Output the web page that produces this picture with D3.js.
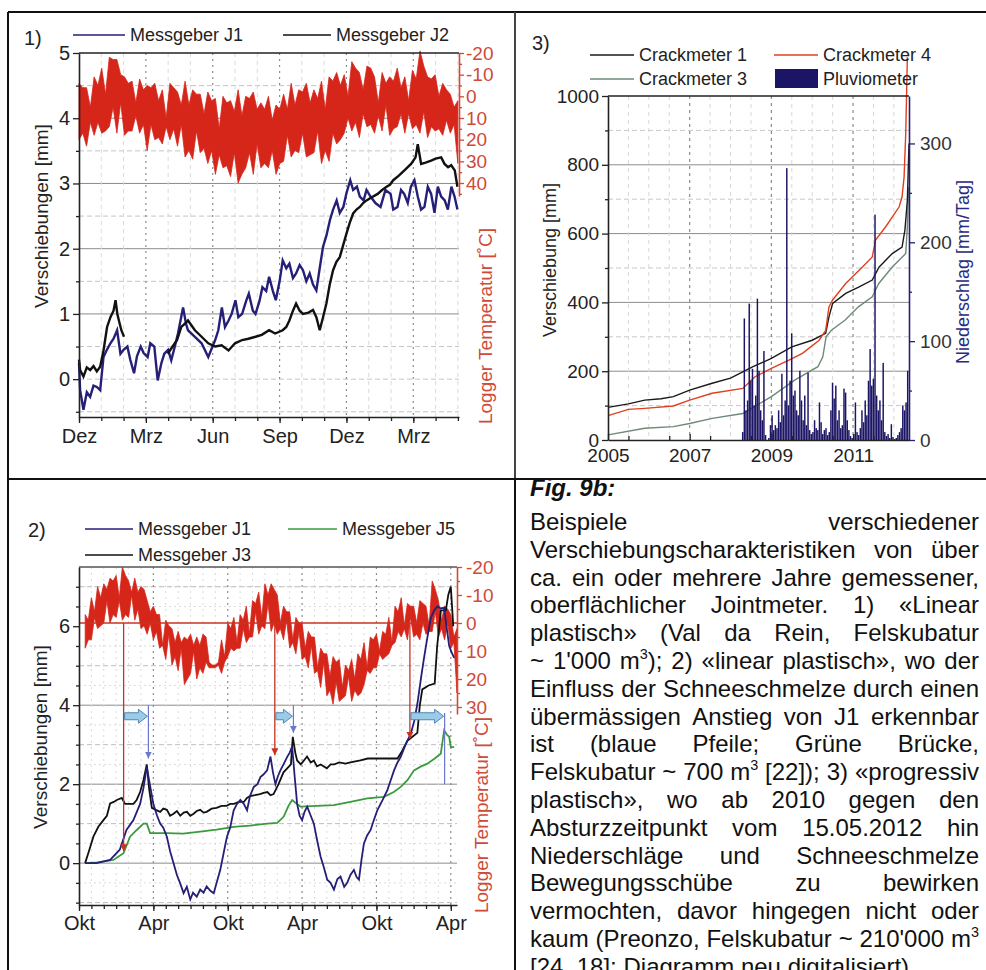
<!DOCTYPE html>
<html>
<head>
<meta charset="utf-8">
<script src="https://cdn.jsdelivr.net/npm/d3@7"></script>
<style>
  body { margin: 0; background: #fff; }
  svg { display: block; }
</style>
</head>
<body>
<svg id="fig" width="986" height="970"></svg>
<script>
// ---------- data ----------

// panel 1 (months since Dez)
const p1TickMonths = [0, 3, 6, 9, 12, 15];
const p1TickLabels = ["Dez", "Mrz", "Jun", "Sep", "Dez", "Mrz"];
const p1MmTicks = [0, 1, 2, 3, 4, 5];
const p1TempTicks = [-20, -10, 0, 10, 20, 30, 40];
const p1TempStart = 0, p1TempStep = 0.17;
// upper (cold) and lower (warm) edge of the noisy logger trace, °C
const p1TempCold = [
  -6, -4, -4, 5, -9, -5, -13, -1, -18, -17, -17, -10, -9, -6, -7, 3, -8, -3, -5, -4,
  -6, 2, -3, 10, -6, -4, -2, 4, -7, 4, -3, -1, -1, 8, -2, 2, 1, 15, 0, 3,
  2, 7, -3, 9, 0, 1, -2, 6, 3, 6, 0, 11, 4, 6, -1, 6, -6, 4, -3, -2,
  -6, 3, -3, 1, -7, 6, -9, -7, -11, -5, -10, 0, -16, -13, -11, -3, -14, -13, -9, 3,
  -11, -6, -9, -7, -13, -4, -9, 2, -12, -8, -21, -14, -9, -8, -10, 0, -6, -3, -1, 5,
  2];
const p1TempWarm = [
  20, 17, 23, 12, 18, 12, 17, 16, 14, 5, 17, 3, 18, 16, 16, 9, 17, 13, 25, 13,
  20, 19, 22, 14, 20, 15, 23, 13, 28, 25, 29, 16, 26, 24, 31, 25, 36, 27, 33, 32,
  37, 26, 40, 36, 33, 26, 36, 22, 33, 31, 33, 25, 36, 31, 30, 18, 28, 25, 26, 17,
  28, 27, 26, 16, 31, 25, 30, 17, 22, 20, 17, 10, 16, 12, 19, 8, 14, 13, 17, 9,
  16, 4, 18, 15, 14, 8, 17, 8, 15, 13, 17, 7, 19, 14, 16, 15, 18, 11, 17, 13,
  31];
const p1J1 = [[0, 0.25], [0.05, -0.17], [0.2, -0.47], [0.35, -0.2], [0.5, -0.27], [0.65, -0.1], [0.8, -0.12], [0.95, -0.17],
  [1.1, 0.34], [1.25, 0.45], [1.41, 0.55], [1.55, 0.62], [1.71, 0.75], [1.86, 0.39], [2.0, 0.45], [2.17, 0.5], [2.3, 0.3],
  [2.47, 0.09], [2.6, 0.35], [2.77, 0.5], [2.9, 0.4], [3.08, 0.34], [3.2, 0.55], [3.38, 0.5], [3.53, -0.02], [3.7, 0.25],
  [3.83, 0.39], [4.0, 0.45], [4.14, 0.29], [4.3, 0.5], [4.44, 0.7], [4.67, 1.1], [4.8, 0.85], [4.89, 0.75], [5.2, 0.65],
  [5.5, 0.55], [5.8, 0.34], [6.11, 0.6], [6.25, 0.75], [6.41, 1.1], [6.55, 0.8], [6.71, 0.9], [6.85, 1.0], [7.02, 1.21],
  [7.15, 0.95], [7.32, 1.0], [7.5, 1.2], [7.62, 1.31], [7.8, 1.05], [7.92, 1.0], [8.1, 1.2], [8.23, 1.41], [8.4, 1.35],
  [8.53, 1.57], [8.7, 1.35], [8.83, 1.21], [9.0, 1.5], [9.14, 1.82], [9.3, 1.7], [9.44, 1.77], [9.6, 1.55], [9.74, 1.62],
  [9.9, 1.75], [10.05, 1.67], [10.2, 1.5], [10.35, 1.62], [10.5, 1.45], [10.65, 1.36], [10.8, 1.7], [10.95, 2.03],
  [11.1, 2.2], [11.26, 2.44], [11.4, 2.6], [11.56, 2.74], [11.7, 2.55], [11.86, 2.64], [12.0, 2.85], [12.17, 3.05],
  [12.3, 2.9], [12.47, 2.95], [12.6, 2.8], [12.77, 2.74], [12.9, 2.9], [13.08, 2.8], [13.3, 2.7], [13.53, 2.64],
  [13.75, 2.9], [13.98, 2.84], [14.1, 2.6], [14.29, 2.64], [14.45, 2.9], [14.59, 2.84], [14.75, 2.7], [14.89, 2.95],
  [15.05, 3.05], [15.2, 2.8], [15.35, 2.6], [15.5, 2.64], [15.65, 2.95], [15.8, 2.84], [15.95, 2.55], [16.1, 2.95],
  [16.25, 2.8], [16.41, 2.74], [16.55, 2.6], [16.71, 2.95], [16.85, 2.8], [16.98, 2.6]];
const p1J2 = [[0, 0.3], [0.05, 0.14], [0.2, 0.04], [0.35, 0.18], [0.5, 0.14], [0.65, 0.2], [0.8, 0.12], [0.95, 0.19],
  [1.1, 0.44], [1.26, 0.8], [1.41, 0.95], [1.55, 1.05], [1.64, 1.21], [1.72, 1.0], [1.79, 0.9], [1.9, 0.75], [2.02, 0.65],
  [2.05, null], [3.9, null], [3.98, 0.39], [4.2, 0.5], [4.4, 0.6], [4.59, 0.8], [4.75, 0.85], [4.89, 0.9], [5.2, 0.75],
  [5.5, 0.65], [5.8, 0.55], [6.11, 0.5], [6.4, 0.52], [6.71, 0.44], [7.0, 0.55], [7.32, 0.6], [7.6, 0.62], [7.92, 0.65],
  [8.2, 0.68], [8.53, 0.75], [8.8, 0.7], [9.14, 0.75], [9.3, 0.8], [9.44, 0.9], [9.6, 1.05], [9.74, 1.16], [9.9, 1.05],
  [10.05, 1.0], [10.3, 1.02], [10.5, 1.06], [10.65, 0.95], [10.8, 0.75], [10.95, 0.95], [11.1, 1.16], [11.25, 1.45],
  [11.4, 1.67], [11.55, 1.8], [11.7, 1.87], [11.85, 2.05], [12.0, 2.23], [12.15, 2.4], [12.3, 2.54], [12.45, 2.6],
  [12.6, 2.64], [12.75, 2.7], [12.9, 2.74], [13.1, 2.78], [13.4, 2.84], [13.6, 2.9], [13.8, 2.95], [13.95, 2.98],
  [14.1, 3.05], [14.35, 3.12], [14.6, 3.2], [14.75, 3.25], [14.9, 3.3], [15.1, 3.4], [15.2, 3.6], [15.35, 3.3],
  [15.55, 3.32], [15.8, 3.35], [16.0, 3.38], [16.25, 3.4], [16.4, 3.3], [16.56, 3.25], [16.7, 3.28], [16.86, 3.2], [16.98, 2.95]];

// panel 3 (years)
const p3YearTicks = [2005, 2007, 2009, 2011];
const p3MmTicks = [0, 200, 400, 600, 800, 1000];
const p3RainTicks = [0, 100, 200, 300];
const crack1 = [[2005, 95], [2005.5, 105], [2005.9, 116], [2006.3, 120], [2006.6, 126], [2007.0, 145], [2007.55, 165],
  [2008.0, 180], [2008.3, 198], [2008.55, 213], [2009.0, 237], [2009.5, 271], [2010.0, 290], [2010.33, 310],
  [2010.41, 358], [2010.5, 397], [2010.82, 426], [2011.15, 445], [2011.47, 465], [2011.64, 503], [2011.96, 542],
  [2012.2, 561], [2012.27, 610], [2012.33, 697], [2012.37, 862]];
const crack4 = [[2005, 71], [2005.5, 89], [2005.9, 92], [2006.6, 99], [2007.0, 116], [2007.55, 136], [2008.3, 150],
  [2008.6, 184], [2009.0, 208], [2009.43, 232], [2009.76, 252], [2010.17, 290], [2010.33, 319], [2010.41, 387],
  [2010.5, 407], [2010.82, 455], [2011.23, 503], [2011.47, 532], [2011.55, 581], [2011.8, 620], [2012.13, 678],
  [2012.2, 707], [2012.25, 765], [2012.29, 890], [2012.33, 1113]];
const crack3 = [[2005, 15], [2005.9, 34], [2006.6, 39], [2007.0, 48], [2007.55, 63], [2008.3, 77], [2009.0, 126],
  [2009.57, 174], [2010.14, 213], [2010.26, 242], [2010.34, 300], [2010.47, 319], [2010.8, 348], [2011.13, 387],
  [2011.47, 416], [2011.63, 455], [2011.96, 503], [2012.29, 542], [2012.33, 620], [2012.36, 735]];
const rainStart = 2008.30, rainStep = 0.04;
const rainValues = [8, 123, 30, 40, 138, 60, 72, 35, 45, 143, 70, 30, 20, 90, 5, 0, 2, 15, 25, 10,
  15, 12, 30, 18, 67, 25, 40, 275, 35, 60, 108, 45, 50, 30, 25, 70, 40, 20, 45, 15,
  68, 10, 6, 8, 20, 12, 10, 38, 18, 6, 10, 12, 5, 8, 30, 58, 42, 55, 20, 30,
  12, 15, 52, 48, 20, 10, 4, 2, 6, 38, 8, 5, 12, 30, 18, 40, 25, 60, 92, 55,
  62, 228, 45, 30, 40, 20, 78, 8, 4, 6, 2, 16, 3, 1, 2, 5, 8, 12, 35, 30, 38, 70];

// panel 2 (months since Okt)
const p2TickMonths = [0, 6, 12, 18, 24, 30];
const p2TickLabels = ["Okt", "Apr", "Okt", "Apr", "Okt", "Apr"];
const p2MmTicks = [0, 2, 4, 6];
const p2TempTicks = [-20, -10, 0, 10, 20, 30];
const p2TempStart = 0.5, p2TempStep = 0.25;
const p2TempCold = [
  -3, -1, -9, -4, -13, -9, -14, -12, -16, -15, -17, -9, -20, -17, -15, -11, -16, -11, -13, -12,
  -8, -4, -6, -3, -3, 8, -1, 1, 2, 7, 3, 7, 5, 6, 4, 8, 5, 8, 4, 5,
  14, 15, 15, 14, 6, 12, 0, 2, -2, 7, -3, -1, -6, 4, -8, -7, -11, -2, -14, -10,
  -14, -12, -10, 0, -6, -4, -4, 6, -2, 0, 0, 9, 3, 5, 5, 16, 9, 11, 11, 19,
  12, 14, 13, 23, 15, 17, 13, 20, 11, 13, 7, 16, 5, 6, 4, 10, 3, 4, -2, 7,
  -6, -4, -9, 1, -7, -6, -6, 0, -8, -7, -6, 1, -15, -12, -8, -1, -6, -5, -3, 5,
  2];
const p2TempWarm = [
  9, 6, 6, -2, 2, 1, 0, -8, 0, -3, -2, -8, -1, -3, -2, -10, -1, -5, 2, 1,
  4, 0, 6, 3, 9, 8, 13, 4, 15, 12, 17, 9, 22, 20, 18, 10, 20, 16, 18, 14,
  16, 16, 16, 15, 18, 14, 12, 9, 10, 9, 9, 2, 7, 5, 5, -4, 4, 1, 2, -7,
  3, 0, 4, 2, 6, -1, 9, 7, 11, 3, 13, 12, 16, 8, 18, 17, 23, 14, 26, 24,
  29, 21, 28, 27, 26, 19, 28, 24, 26, 25, 22, 17, 18, 16, 16, 11, 13, 12, 11, 8,
  7, 3, 5, 2, 6, -2, 5, 4, 6, 0, 4, 3, 3, -4, 5, 2, 6, 0, 9, 7,
  25];
const p2J1 = [[0.49, 0], [1.4, 0], [2.51, 0.08], [3.29, 0.34], [3.83, 0.84], [4.39, 1.09], [4.93, 1.5], [5.2, 1.9],
  [5.47, 2.44], [5.6, 2.2], [6.0, 1.5], [6.3, 1.2], [6.55, 1.0], [6.8, 0.9], [7.09, 0.67], [7.35, 0.3], [7.63, 0],
  [7.9, -0.3], [8.15, -0.5], [8.44, -0.76], [8.7, -0.6], [8.98, -0.92], [9.2, -0.75], [9.5, -0.85], [9.78, -0.67],
  [10.05, -0.75], [10.3, -0.59], [10.6, -0.7], [10.87, -0.76], [11.1, -0.5], [11.4, -0.17], [11.7, 0.3], [11.94, 0.67],
  [12.2, 0.9], [12.48, 1.34], [12.75, 1.5], [13.02, 1.6], [13.3, 1.5], [13.56, 1.34], [13.8, 1.7], [14.1, 1.93],
  [14.4, 2.0], [14.64, 2.18], [14.9, 2.25], [15.18, 2.35], [15.45, 2.7], [15.65, 2.3], [15.85, 2.0], [16.05, 2.2],
  [16.25, 2.35], [16.5, 2.5], [16.8, 2.69], [17.0, 2.8], [17.2, 2.95], [17.4, 2.2], [17.6, 1.5], [17.8, 1.2],
  [18.0, 1.09], [18.2, 1.3], [18.41, 1.43], [18.7, 1.2], [18.95, 1.0], [19.2, 0.6], [19.49, 0.17], [19.75, -0.1],
  [20.03, -0.42], [20.3, -0.5], [20.57, -0.67], [20.85, -0.4], [21.1, -0.34], [21.4, -0.6], [21.64, -0.5],
  [21.9, -0.3], [22.18, -0.17], [22.4, -0.35], [22.59, -0.42], [22.8, 0.1], [22.99, 0.5], [23.25, 0.7], [23.53, 0.84],
  [23.8, 1.1], [24.07, 1.34], [24.5, 1.6], [24.88, 1.85], [25.15, 2.1], [25.42, 2.35], [25.7, 2.55], [25.96, 2.69],
  [26.35, 3.0], [26.77, 3.28], [27.05, 3.6], [27.3, 4.03], [27.6, 4.7], [27.84, 5.2], [28.1, 5.7], [28.38, 6.2],
  [28.65, 6.4], [28.92, 6.5], [29.2, 6.45], [29.46, 6.47], [29.65, 6.0], [29.87, 5.5], [30.05, 5.35], [30.27, 5.2]];
const p2J3 = [[0.49, 0], [0.8, 0.3], [1.16, 0.67], [1.56, 0.92], [1.97, 1.09], [2.25, 1.2], [2.51, 1.51], [2.8, 1.55],
  [3.05, 1.6], [3.45, 1.65], [3.72, 1.5], [4.1, 1.5], [4.39, 1.5], [4.65, 1.6], [4.93, 1.8], [5.2, 2.1], [5.47, 2.5],
  [5.65, 1.9], [5.88, 1.4], [6.2, 1.35], [6.55, 1.3], [6.8, 1.38], [7.09, 1.35], [7.35, 1.2], [7.63, 1.25],
  [7.9, 1.32], [8.17, 1.2], [8.45, 1.28], [8.71, 1.3], [8.98, 1.2], [9.25, 1.25], [9.5, 1.32], [9.78, 1.35],
  [10.05, 1.28], [10.3, 1.3], [10.7, 1.38], [11.1, 1.4], [11.5, 1.45], [11.9, 1.45], [12.2, 1.5], [12.5, 1.5],
  [12.9, 1.55], [13.3, 1.55], [13.55, 1.65], [13.8, 1.7], [14.2, 1.72], [14.6, 1.75], [14.9, 1.78], [15.2, 1.8],
  [15.45, 1.72], [15.7, 1.75], [16.1, 2.0], [16.5, 2.3], [16.8, 2.4], [17.1, 2.5], [17.25, 3.2], [17.45, 2.8],
  [17.6, 2.6], [17.9, 2.5], [18.15, 2.6], [18.4, 2.7], [18.7, 2.55], [18.95, 2.6], [19.2, 2.45], [19.5, 2.5],
  [20.0, 2.4], [20.3, 2.5], [20.6, 2.5], [21.0, 2.55], [21.5, 2.52], [21.9, 2.55], [22.3, 2.58], [22.7, 2.6],
  [23.3, 2.65], [24.5, 2.65], [25.7, 2.65], [26.0, 2.8], [26.5, 3.1], [26.9, 3.2], [27.3, 3.3], [27.5, 4.0],
  [27.7, 4.4], [28.2, 4.5], [28.7, 4.55], [28.9, 5.5], [29.2, 6.4], [29.6, 6.4], [29.8, 6.8], [30.0, 7.0], [30.2, 6.0]];
const p2J5 = [[0.49, 0], [1.5, 0.02], [2.78, 0.08], [3.59, 0.25], [4.12, 0.67], [4.66, 0.84], [5.2, 1.0], [5.47, 1.0],
  [5.74, 0.76], [7.09, 0.76], [8.4, 0.75], [9.78, 0.8], [11.1, 0.85], [12.48, 0.92], [13.8, 0.95], [15.18, 1.0],
  [16.0, 1.02], [16.52, 1.18], [16.9, 1.45], [17.2, 1.6], [17.87, 1.43], [19.2, 1.45], [20.57, 1.47], [21.9, 1.55],
  [23.26, 1.64], [24.61, 1.68], [25.4, 1.8], [25.96, 1.93], [26.5, 2.1], [27.03, 2.35], [27.6, 2.45], [28.11, 2.52],
  [28.7, 2.65], [29.19, 2.77], [29.46, 3.36], [29.7, 3.25], [29.87, 3.2], [30.0, 2.94], [30.27, 2.94]];
// annotations: red = frost onset, blue = delayed reaction
const p2RedArrowMonths = [3.6, 15.8, 26.7];
const p2RedArrowMm = [0.3, 2.73, 3.15];
const p2BlueArrowFrom = [3.6, 15.8, 26.7];
const p2BlueArrowTo = [5.6, 17.3, 29.5];
const p2BlueDropMonths = [5.6, 17.3, 29.5];
const p2BlueDropTop = [4, 4, 3.8];
const p2BlueDropBottom = [2.65, 3.3, 2.0];

// caption
const captionTitle = "Fig. 9b:";
const captionLines = [
  "Beispiele verschiedener",
  "Verschiebungscharakteristiken von über",
  "ca. ein oder mehrere Jahre gemessener,",
  "oberflächlicher Jointmeter. 1) «Linear",
  "plastisch» (Val da Rein, Felskubatur",
  "~ 1'000 m^3); 2) «linear plastisch», wo der",
  "Einfluss der Schneeschmelze durch einen",
  "übermässigen Anstieg von J1 erkennbar",
  "ist (blaue Pfeile; Grüne Brücke,",
  "Felskubatur ~ 700 m^3 [22]); 3) «progressiv",
  "plastisch», wo ab 2010 gegen den",
  "Absturzzeitpunkt vom 15.05.2012 hin",
  "Niederschläge und Schneeschmelze",
  "Bewegungsschübe zu bewirken",
  "vermochten, davor hingegen nicht oder",
  "kaum (Preonzo, Felskubatur ~ 210'000 m^3",
  "[24, 18]; Diagramm neu digitalisiert)."
];

// ---------- drawing ----------
const FONT = "'Liberation Sans', Arial, Helvetica, sans-serif";
const TEMP_RED = "#d6261a";
const AXIS_RED = "#cf4a38";
const NAVY = "#251f78";
const GREEN = "#3a9a3e";
const fmt = d3.format("d");

const svg = d3.select("#fig").style("font-family", FONT);

const defs = svg.append("defs");
function marker(id, color) {
  defs.append("marker").attr("id", id)
    .attr("viewBox", "0 0 8 8").attr("refX", 8).attr("refY", 4)
    .attr("markerWidth", 7).attr("markerHeight", 7)
    .attr("markerUnits", "userSpaceOnUse").attr("orient", "auto")
    .append("path").attr("d", "M0,0 L8,4 L0,8 z").attr("fill", color);
}
marker("arrRed", "#c8331f");
marker("arrBlue", "#6a78d0");

function hLines(vals, y, xr, stroke, dash, w) {
  svg.append("g").selectAll("line").data(vals).join("line")
    .attr("x1", xr[0]).attr("x2", xr[1])
    .attr("y1", d => y(d)).attr("y2", d => y(d))
    .attr("stroke", stroke).attr("stroke-width", w || 1)
    .attr("stroke-dasharray", dash || null);
}
function vLines(vals, x, yr, stroke, dash, w) {
  svg.append("g").selectAll("line").data(vals).join("line")
    .attr("y1", yr[0]).attr("y2", yr[1])
    .attr("x1", d => x(d)).attr("x2", d => x(d))
    .attr("stroke", stroke).attr("stroke-width", w || 1)
    .attr("stroke-dasharray", dash || null);
}
function axis(gen, transform, color, fs, minor) {
  const g = svg.append("g").attr("transform", transform).call(gen);
  g.attr("font-family", null).attr("font-size", null);
  if (minor) g.select(".domain").remove();
  else g.select(".domain").attr("stroke", color).attr("stroke-width", 1.6);
  g.selectAll(".tick line").attr("stroke", color).attr("stroke-width", 1.3);
  g.selectAll(".tick text").attr("fill", color).attr("font-size", fs);
  return g;
}
function label(x, y, txt, fs, color, rotate, anchor) {
  const t = svg.append("text").attr("font-size", fs).attr("fill", color || "#222")
    .attr("text-anchor", anchor || "start").text(txt);
  if (rotate) t.attr("transform", `translate(${x},${y}) rotate(-90)`);
  else t.attr("x", x).attr("y", y);
  return t;
}
function legendLine(x0, x1, y, color, txt) {
  svg.append("line").attr("x1", x0).attr("x2", x1).attr("y1", y).attr("y2", y)
    .attr("stroke", color).attr("stroke-width", 1.5);
  label(x1 + 5, y + 6, txt, 18, "#222");
}
// noisy logger band: area between the cold and warm edge samples
function tempBand(x, t, start, step, cold, warm) {
  const area = d3.area()
    .x((d, i) => x(start + i * step))
    .y0((d, i) => t(warm[i]))
    .y1(d => t(d));
  svg.append("path").datum(cold).attr("d", area).attr("fill", TEMP_RED)
    .attr("stroke", TEMP_RED).attr("stroke-width", 0.8);
}

// frame of the figure
svg.append("line").attr("x1", 8).attr("x2", 986).attr("y1", 12).attr("y2", 12).attr("stroke", "#111").attr("stroke-width", 2);
svg.append("line").attr("x1", 8).attr("x2", 8).attr("y1", 12).attr("y2", 970).attr("stroke", "#111").attr("stroke-width", 2);
svg.append("line").attr("x1", 515).attr("x2", 515).attr("y1", 12).attr("y2", 479).attr("stroke", "#444").attr("stroke-width", 2);
svg.append("line").attr("x1", 515).attr("x2", 515).attr("y1", 479).attr("y2", 970).attr("stroke", "#111").attr("stroke-width", 2);
svg.append("line").attr("x1", 8).attr("x2", 986).attr("y1", 479).attr("y2", 479).attr("stroke", "#111").attr("stroke-width", 2);

// ===== panel 1 =====
{
  const x = d3.scaleLinear().domain([0, 17.05]).range([79, 459]);
  const y = d3.scaleLinear().domain([-0.58, 5]).range([417, 53]);
  const t = d3.scaleLinear().domain([-20, 46]).range([53, 196]);

  hLines([-0.5, 0, 0.5, 1.5, 2.5, 3.5, 4.5], y, [79, 459], "#c4c4c4", "5,3");
  hLines([1, 2, 3, 4], y, [79, 459], "#8c8c8c");
  vLines(d3.range(1, 18).filter(m => m % 3), x, [53, 417], "#dadada", "4,4");
  vLines(p1TickMonths.slice(1), x, [53, 417], "#8c8c8c", "2,4", 1.2);

  tempBand(x, t, p1TempStart, p1TempStep, p1TempCold, p1TempWarm);

  const line = d3.line().defined(d => d[1] != null).x(d => x(d[0])).y(d => y(d[1]));
  svg.append("path").datum(p1J1).attr("d", line).attr("fill", "none").attr("stroke", NAVY).attr("stroke-width", 2.4);
  svg.append("path").datum(p1J2).attr("d", line).attr("fill", "none").attr("stroke", "#111").attr("stroke-width", 2.4);

  svg.append("line").attr("x1", 79).attr("x2", 459).attr("y1", 53).attr("y2", 53).attr("stroke", "#222").attr("stroke-width", 1.6);

  axis(d3.axisLeft(y).tickValues(p1MmTicks).tickFormat(fmt).tickSize(6).tickPadding(3).tickSizeOuter(0), "translate(79,0)", "#222", 20);
  axis(d3.axisLeft(y).tickValues([-0.5, 0.5, 1.5, 2.5, 3.5, 4.5]).tickSize(3).tickFormat(""), "translate(79,0)", "#222", 20, true);
  axis(d3.axisBottom(x).tickValues(p1TickMonths).tickFormat((d, i) => p1TickLabels[i]).tickSize(6).tickPadding(6).tickSizeOuter(0),
    "translate(0,417)", "#222", 20);
  axis(d3.axisBottom(x).tickValues(d3.range(0, 18)).tickSize(4).tickFormat(""), "translate(0,417)", "#222", 20, true);
  axis(d3.axisRight(t).tickValues(p1TempTicks).tickFormat(d => String(d)).tickSize(5).tickPadding(2).tickSizeOuter(0),
    "translate(459,0)", AXIS_RED, 19);
  axis(d3.axisRight(t).tickValues([-15, -5, 5, 15, 25, 35, 45]).tickSize(3).tickFormat(""), "translate(459,0)", AXIS_RED, 19, true);

  label(48, 216, "Verschiebungen [mm]", 19, "#222", true, "middle");
  label(492, 326, "Logger Temperatur [˚C]", 19, AXIS_RED, true, "middle");

  label(24, 45, "1)", 20, "#222");
  legendLine(73, 125, 35, NAVY, "Messgeber J1");
  legendLine(283, 331, 35, "#111", "Messgeber J2");
}

// ===== panel 3 =====
{
  const x = d3.scaleLinear().domain([2005, 2012.37]).range([608, 909]);
  const y = d3.scaleLinear().domain([0, 1000]).range([440, 96]);
  const r = d3.scaleLinear().domain([0, 348]).range([440, 96]);

  hLines([100, 300, 500, 700, 900], y, [608, 909], "#c8c8c8", "5,3");
  hLines([200, 400, 600, 800], y, [608, 909], "#8c8c8c");
  vLines(d3.range(2005.5, 2012.3, 0.5).filter(v => !p3YearTicks.includes(v)), x, [96, 440], "#d8d8d8", "4,4");
  vLines(p3YearTicks.slice(1), x, [96, 440], "#8c8c8c", "3,4", 1.2);

  const line = d3.line().x(d => x(d[0])).y(d => y(d[1]));
  svg.append("path").datum(crack3).attr("d", line).attr("fill", "none").attr("stroke", "#6e8a76").attr("stroke-width", 1.4);
  svg.append("path").datum(crack1).attr("d", line).attr("fill", "none").attr("stroke", "#1a1a1a").attr("stroke-width", 1.4);
  svg.append("path").datum(crack4).attr("d", line).attr("fill", "none").attr("stroke", "#e0401f").attr("stroke-width", 1.4);

  const bw = x(rainStart + rainStep) - x(rainStart);
  svg.append("g").selectAll("rect").data(rainValues).join("rect")
    .attr("x", (d, i) => x(rainStart + i * rainStep) - bw / 2)
    .attr("width", bw * 0.9)
    .attr("y", d => r(d))
    .attr("height", d => r(0) - r(d))
    .attr("fill", "#1c1565");

  svg.append("line").attr("x1", 608).attr("x2", 909).attr("y1", 96).attr("y2", 96).attr("stroke", "#222").attr("stroke-width", 1.6);

  axis(d3.axisLeft(y).tickValues(p3MmTicks).tickFormat(fmt).tickSize(6).tickPadding(3).tickSizeOuter(0), "translate(608,0)", "#222", 19);
  axis(d3.axisLeft(y).tickValues([100, 300, 500, 700, 900]).tickSize(3).tickFormat(""), "translate(608,0)", "#222", 19, true);
  axis(d3.axisBottom(x).tickValues(p3YearTicks).tickFormat(fmt).tickSize(-6).tickPadding(9).tickSizeOuter(0),
    "translate(0,440)", "#222", 19);
  axis(d3.axisBottom(x).tickValues(d3.range(2005.5, 2012.3, 1)).tickSize(-4).tickFormat(""), "translate(0,440)", "#222", 19, true);
  const ra = axis(d3.axisRight(r).tickValues(p3RainTicks).tickFormat(fmt).tickSize(6).tickPadding(5).tickSizeOuter(0), "translate(909,0)", NAVY, 19);
  ra.selectAll(".tick text").attr("fill", "#333");
  axis(d3.axisRight(r).tickValues([50, 150, 250]).tickSize(3).tickFormat(""), "translate(909,0)", NAVY, 19, true);

  label(556, 260, "Verschiebung [mm]", 18, "#222", true, "middle");
  label(969, 272, "Niederschlag [mm/Tag]", 18, "#2a2a80", true, "middle");

  label(532, 50, "3)", 20, "#222");
  legendLine(590, 634, 55, "#1a1a1a", "Crackmeter 1");
  legendLine(774, 818, 55, "#e0401f", "Crackmeter 4");
  legendLine(590, 634, 79, "#6e8a76", "Crackmeter 3");
  svg.append("rect").attr("x", 775).attr("y", 69).attr("width", 43).attr("height", 19).attr("fill", "#1c1565");
  label(823, 85, "Pluviometer", 18, "#222");
}

// ===== panel 2 =====
{
  const x = d3.scaleLinear().domain([0, 30.5]).range([79, 457]);
  const y = d3.scaleLinear().domain([-1.06, 7.5]).range([905, 567]);
  const t = d3.scaleLinear().domain([-20, 32.5]).range([567, 714]);

  hLines([-0.5, 0.5, 1.5, 2.5, 3.5, 4.5, 5.5, 6.5, 7], y, [79, 457], "#dcdcdc", "2,3");
  hLines([-1, 1, 3, 5, 7], y, [79, 457], "#bdbdbd", "5,3");
  hLines([0, 2, 4], y, [79, 457], "#8c8c8c");
  vLines(d3.range(1, 31).filter(m => m % 6), x, [567, 905], "#dadada", "2,4");
  vLines(p2TickMonths.slice(1), x, [567, 905], "#8c8c8c", "2,4", 1.2);

  tempBand(x, t, p2TempStart, p2TempStep, p2TempCold, p2TempWarm);
  // 0 °C line coincides with 6 mm
  svg.append("line").attr("x1", 79).attr("x2", 457).attr("y1", t(0)).attr("y2", t(0))
    .attr("stroke", "#c8331f").attr("stroke-width", 1.3);

  const line = d3.line().x(d => x(d[0])).y(d => y(d[1]));
  svg.append("path").datum(p2J5).attr("d", line).attr("fill", "none").attr("stroke", GREEN).attr("stroke-width", 1.8);
  svg.append("path").datum(p2J3).attr("d", line).attr("fill", "none").attr("stroke", "#111").attr("stroke-width", 1.8);
  svg.append("path").datum(p2J1).attr("d", line).attr("fill", "none").attr("stroke", NAVY).attr("stroke-width", 1.8);

  // red arrows from the 0 °C line down to the curves
  p2RedArrowMonths.forEach((m, i) => {
    svg.append("line").attr("x1", x(m)).attr("x2", x(m))
      .attr("y1", t(0)).attr("y2", y(p2RedArrowMm[i]))
      .attr("stroke", "#c8331f").attr("stroke-width", 1.3).attr("marker-end", "url(#arrRed)");
  });
  // blue thin drops
  p2BlueDropMonths.forEach((m, i) => {
    svg.append("line").attr("x1", x(m)).attr("x2", x(m))
      .attr("y1", y(p2BlueDropTop[i])).attr("y2", y(p2BlueDropBottom[i]))
      .attr("stroke", "#6a78d0").attr("stroke-width", 1.2)
      .attr("marker-end", i < 2 ? "url(#arrBlue)" : null);
  });
  // blue block arrows
  const ay = y(3.72);
  p2BlueArrowFrom.forEach((m, i) => {
    const a = x(m) + 1, b = x(p2BlueArrowTo[i]) - 1;
    const pts = [[a, ay - 3.5], [b - 9, ay - 3.5], [b - 9, ay - 7], [b, ay], [b - 9, ay + 7], [b - 9, ay + 3.5], [a, ay + 3.5]];
    svg.append("polygon").attr("points", pts.map(p => p.join(",")).join(" "))
      .attr("fill", "#9ccbe8").attr("stroke", "#4f86b8").attr("stroke-width", 1);
  });

  svg.append("line").attr("x1", 79).attr("x2", 457).attr("y1", 567).attr("y2", 567).attr("stroke", "#555").attr("stroke-width", 1.6);

  axis(d3.axisLeft(y).tickValues(p2MmTicks).tickFormat(fmt).tickSize(6).tickPadding(3).tickSizeOuter(0), "translate(79,0)", "#222", 20);
  axis(d3.axisLeft(y).tickValues([-1, -0.5, 0.5, 1, 1.5, 2.5, 3, 3.5, 4.5, 5, 5.5, 6.5, 7]).tickSize(3).tickFormat(""),
    "translate(79,0)", "#222", 20, true);
  axis(d3.axisBottom(x).tickValues(p2TickMonths).tickFormat((d, i) => p2TickLabels[i]).tickSize(6).tickPadding(5).tickSizeOuter(0),
    "translate(0,905)", "#222", 20);
  axis(d3.axisBottom(x).tickValues(d3.range(0, 31)).tickSize(4).tickFormat(""), "translate(0,905)", "#222", 20, true);
  axis(d3.axisRight(t).tickValues(p2TempTicks).tickFormat(d => String(d)).tickSize(5).tickPadding(4).tickSizeOuter(0),
    "translate(457,0)", AXIS_RED, 19);
  axis(d3.axisRight(t).tickValues([-15, -5, 5, 15, 25]).tickSize(3).tickFormat(""), "translate(457,0)", AXIS_RED, 19, true);

  label(47, 737, "Verschiebungen [mm]", 19, "#222", true, "middle");
  label(488, 815, "Logger Temperatur [˚C]", 19, AXIS_RED, true, "middle");

  label(28, 537, "2)", 20, "#222");
  legendLine(85, 133, 529, NAVY, "Messgeber J1");
  legendLine(288, 337, 529, GREEN, "Messgeber J5");
  legendLine(85, 133, 555, "#111", "Messgeber J3");
}

// ===== caption, justified =====
{
  const x0 = 530, x1 = 979, yFirst = 530, step = 27.8, fs = 24;
  svg.append("text").attr("x", x0).attr("y", 496).attr("font-size", fs)
    .attr("font-weight", "bold").attr("font-style", "italic").attr("fill", "#111").text(captionTitle);

  captionLines.forEach((ln, li) => {
    const yy = yFirst + li * step;
    const words = ln.split(" ");
    const nodes = words.map(w => {
      const tx = svg.append("text").attr("y", yy).attr("font-size", fs).attr("fill", "#111");
      const parts = w.split("^");
      tx.append("tspan").text(parts[0]);
      if (parts.length > 1) {
        tx.append("tspan").attr("font-size", fs * 0.6).attr("dy", -fs * 0.42).text(parts[1][0]);
        if (parts[1].length > 1) tx.append("tspan").attr("font-size", fs).attr("dy", fs * 0.42).text(parts[1].slice(1));
      }
      return tx;
    });
    const widths = nodes.map(n => n.node().getComputedTextLength());
    const last = li === captionLines.length - 1;
    const gap = last ? fs * 0.28 : (x1 - x0 - d3.sum(widths)) / (words.length - 1);
    let cx = x0;
    nodes.forEach((n, i) => { n.attr("x", cx); cx += widths[i] + gap; });
  });
}
</script>
</body>
</html>
